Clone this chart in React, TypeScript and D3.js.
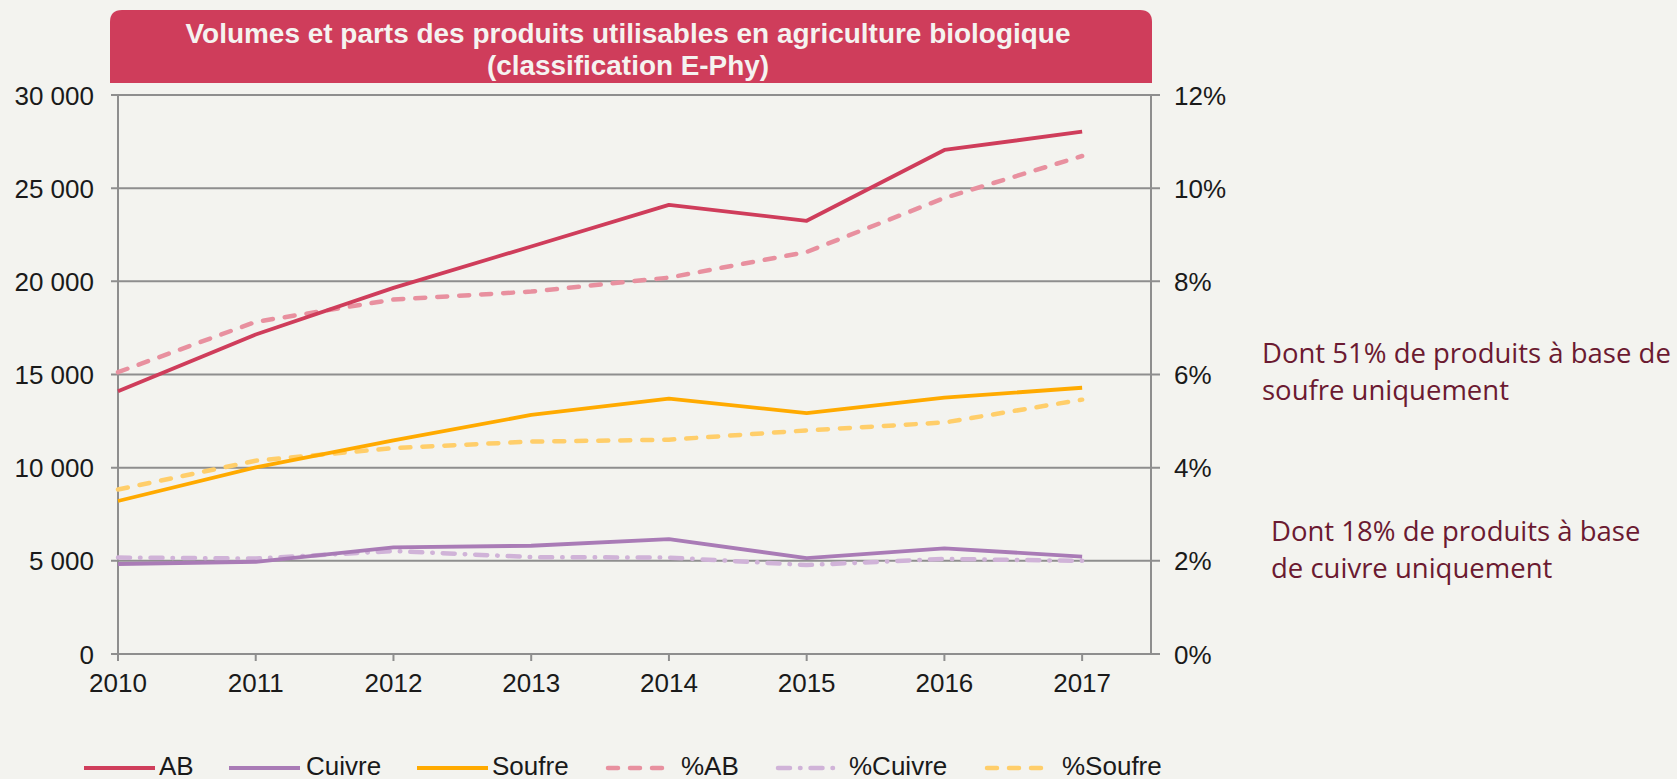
import React from 'react';
import * as d3 from 'd3';

const years = [2010, 2011, 2012, 2013, 2014, 2015, 2016, 2017];
const ab = [14100, 17150, 19650, 21870, 24100, 23250, 27050, 28030];
const cuivre = [4830, 4950, 5720, 5810, 6170, 5140, 5670, 5230];
const soufre = [8210, 10020, 11460, 12830, 13700, 12930, 13760, 14290];
const pctAb = [6.05, 7.13, 7.61, 7.78, 8.08, 8.63, 9.79, 10.69];
const pctCuivre = [2.07, 2.05, 2.21, 2.08, 2.07, 1.91, 2.04, 2.0];
const pctSoufre = [3.53, 4.15, 4.42, 4.56, 4.6, 4.8, 4.97, 5.46];
const leftTicks = [0, 5000, 10000, 15000, 20000, 25000, 30000];
const rightTicks = [0, 2, 4, 6, 8, 10, 12];

const titleLines = ['Volumes et parts des produits utilisables en agriculture biologique', '(classification E-Phy)'];
const noteSoufre = ['Dont 51% de produits à base de', 'soufre uniquement'];
const noteCuivre = ['Dont 18% de produits à base', 'de cuivre uniquement'];

type Serie = { name: string; values: number[]; axis: 'left' | 'right'; color: string; dash?: string };

const series: Serie[] = [
  { name: 'AB', values: ab, axis: 'left', color: '#CF3D5B' },
  { name: 'Cuivre', values: cuivre, axis: 'left', color: '#A97BB6' },
  { name: 'Soufre', values: soufre, axis: 'left', color: '#FFAA00' },
  { name: '%AB', values: pctAb, axis: 'right', color: '#E8909F', dash: '10 12' },
  { name: '%Cuivre', values: pctCuivre, axis: 'right', color: '#D0B3D8', dash: '12 10 0.5 10' },
  { name: '%Soufre', values: pctSoufre, axis: 'right', color: '#FFCE6A', dash: '10 12' },
];

// legend layout (line start, text start)
const legendX = [[84, 159], [229, 306], [417, 492], [604, 681], [774, 849], [983, 1062]];
// title layout (width of each line)
const titleWidths = [885, 282];

const W = 1677, H = 779;
const left = 118, right = 1151, top = 95, bottom = 654;
const axisColor = '#8E8E8E';
const font = '"Liberation Sans", Arial, sans-serif';

const fmt = (v: number) => d3.format(',')(v).replace(/,/g, ' ');

const App = () => {
  const x = d3.scaleLinear().domain([2010, 2017.5]).range([left, right]);
  const yL = d3.scaleLinear().domain([0, 30000]).range([bottom, top]);
  const yR = d3.scaleLinear().domain([0, 12]).range([bottom, top]);

  const lineFor = (s: Serie) =>
    d3.line<number>()
      .x((d, i) => x(years[i]))
      .y(d => (s.axis === 'left' ? yL(d) : yR(d)))(s.values) || '';

  const drawOrder = [3, 4, 5, 0, 1, 2];

  return (
    <svg width={W} height={H} style={{ position: 'absolute', left: 0, top: 0 }}>
      <rect width={W} height={H} fill="#F3F3EF" />

      {/* title band */}
      <path d={`M110,83 V22 Q110,10 122,10 H1140 Q1152,10 1152,22 V83 Z`} fill="#CF3D5B" />
      {titleLines.map((t, i) => (
        <text key={i} x={628} y={43 + i * 32} textAnchor="middle" fill="#F5F3F0"
          fontFamily={font} fontWeight="bold" fontSize={28}
          textLength={titleWidths[i]} lengthAdjust="spacingAndGlyphs">{t}</text>
      ))}

      {/* grid + left axis */}
      <g fontFamily={font} fontSize={26} fill="#1a1a1a">
        {leftTicks.map(t => (
          <g key={t}>
            <line x1={left - 7} x2={right + 9} y1={yL(t)} y2={yL(t)} stroke={axisColor} strokeWidth={2} />
            <text x={94} y={yL(t) + 9.5} textAnchor="end">{fmt(t)}</text>
          </g>
        ))}
        {rightTicks.map(t => (
          <text key={t} x={1174} y={yR(t) + 9.5}>{t}%</text>
        ))}
        {years.map(yr => (
          <g key={yr}>
            <line x1={x(yr)} x2={x(yr)} y1={bottom} y2={bottom + 7} stroke={axisColor} strokeWidth={2} />
            <text x={x(yr)} y={692} textAnchor="middle">{yr}</text>
          </g>
        ))}
      </g>
      <line x1={left} x2={left} y1={top} y2={bottom + 7} stroke={axisColor} strokeWidth={2} />
      <line x1={right} x2={right} y1={top} y2={bottom} stroke={axisColor} strokeWidth={2} />

      {/* series */}
      {drawOrder.map(i => {
        const s = series[i];
        return (
          <path key={s.name} d={lineFor(s)} fill="none" stroke={s.color}
            strokeWidth={s.dash ? 4.5 : 3.8} strokeDasharray={s.dash}
            strokeLinecap={s.dash ? 'round' : 'butt'} strokeLinejoin="round" />
        );
      })}

      {/* notes */}
      <g fontFamily='"Open Sans", sans-serif' fontSize={27.5} fill="#6B1A31">
        {noteSoufre.map((t, i) => <text key={t} x={1262} y={363 + i * 37}>{t}</text>)}
        {noteCuivre.map((t, i) => <text key={t} x={1271} y={541 + i * 37}>{t}</text>)}
      </g>

      {/* legend */}
      <g fontFamily={font} fontSize={26} fill="#1a1a1a">
        {series.map((s, i) => {
          const [lx, tx] = legendX[i];
          return (
            <g key={s.name}>
              <line x1={s.dash ? lx + 4 : lx} x2={s.dash ? lx + 67 : lx + 71} y1={768} y2={768}
                stroke={s.color} strokeWidth={s.dash ? 4.5 : 4} strokeDasharray={s.dash}
                strokeLinecap={s.dash ? 'round' : 'butt'} />
              <text x={tx} y={775}>{s.name}</text>
            </g>
          );
        })}
      </g>
    </svg>
  );
};

export default App;
